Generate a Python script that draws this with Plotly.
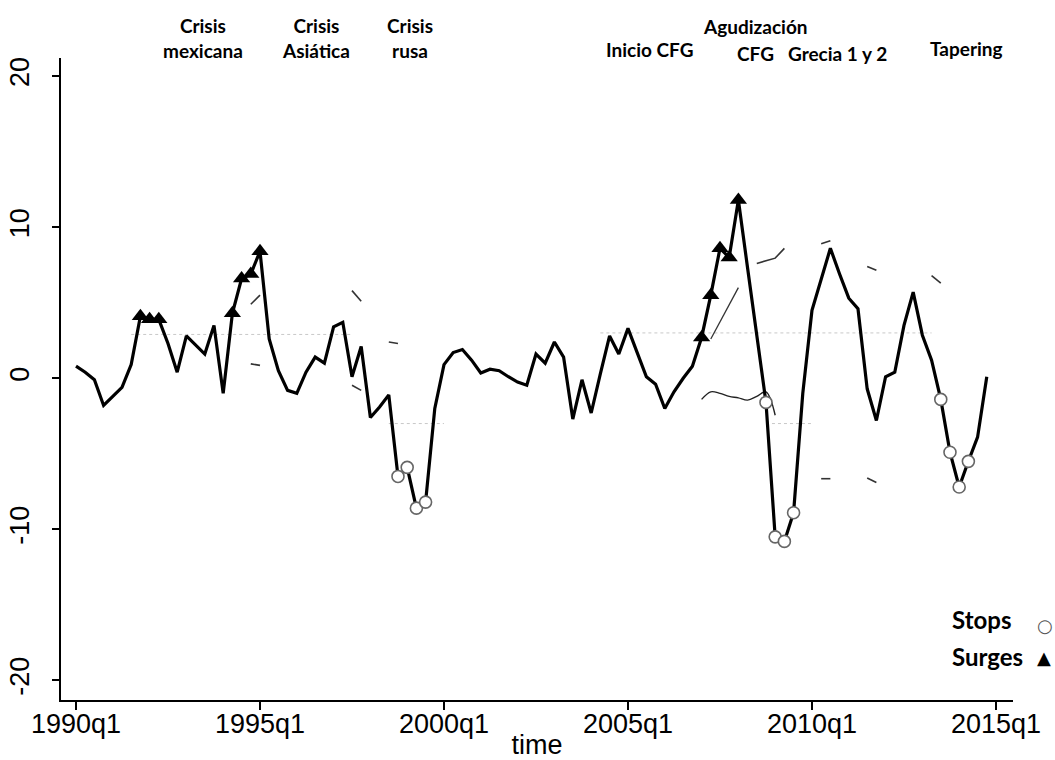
import plotly.graph_objects as go

# ---------------- data ----------------
start_year = 1990
# quarterly capital-flow indicator, 1990q1 .. 2014q4
flow = [
    0.8, 0.4, -0.1, -1.8, -1.2, -0.6, 0.9, 4.1, 3.9, 3.9,
    2.3, 0.4, 2.8, 2.2, 1.6, 3.5, -1.0, 4.3, 6.6, 6.9,
    8.4, 2.6, 0.5, -0.8, -1.0, 0.4, 1.4, 1.0, 3.4, 3.7,
    0.1, 2.1, -2.6, -1.9, -1.1, -6.5, -5.9, -8.6, -8.2, -2.0,
    0.9, 1.7, 1.9, 1.2, 0.35, 0.6, 0.5, 0.1, -0.25, -0.46,
    1.6, 1.0, 2.4, 1.4, -2.7, -0.1, -2.3, 0.3, 2.8, 1.6,
    3.3, 1.7, 0.1, -0.4, -2.0, -0.9, 0.0, 0.8, 2.7, 5.5,
    8.6, 8.0, 11.8, 7.3, 2.9, -1.6, -10.5, -10.8, -8.9, -1.0,
    4.5, 6.5, 8.6, 6.9, 5.3, 4.6, -0.7, -2.8, 0.1, 0.4,
    3.5, 5.7, 2.85, 1.2, -1.4, -4.9, -7.2, -5.5, -3.9, 0.1,
]
quarters = list(range(len(flow)))

surge_idx = [7, 8, 9, 17, 18, 19, 20, 68, 69, 70, 71, 72]
stop_idx = [35, 36, 37, 38, 75, 76, 77, 78, 94, 95, 96, 97]

# faint threshold bands (only fragments survive in the original figure)
upper_q = [19, 20, None, 30, 31, None, 74, 75, 76, 77, None, 81, 82, None, 86, 87, None, 93, 94]
upper_v = [4.9, 5.5, None, 5.8, 5.1, None, 7.6, 7.8, 7.95, 8.6, None, 8.9, 9.1, None, 7.4, 7.15, None, 6.8, 6.3]
mid_q = [19, 20, None, 34, 35]
mid_v = [0.95, 0.85, None, 2.4, 2.3]
lower_q = [30, 31, None, 81, 82, None, 86, 87]
lower_v = [-0.46, -0.8, None, -6.65, -6.65, None, -6.6, -6.9]
thin_q = [68, 69, 70, 71, 72, 73, 74, 75, 76]
thin_v = [-1.4, -0.9, -1.0, -1.2, -1.3, -1.45, -1.2, -0.9, -2.45]
rise_q = [69, 70, 71, 72]
rise_v = [2.6, 3.7, 4.8, 6.0]
faint_q = [6, 30, None, 57, 93, None, 34, 40, None, 75, 80]
faint_v = [2.9, 2.9, None, 3.0, 3.0, None, -3.0, -3.0, None, -3.0, -3.0]

tick_years = [1990, 1995, 2000, 2005, 2010, 2015]
y_ticks = [-20, -10, 0, 10, 20]
y_ticktext = ["-20", "-10", "0", "10", "20"]

events = ["Crisis<br>mexicana", "Crisis<br>Asiática", "Crisis<br>rusa", "Inicio CFG",
          "Agudización", "CFG", "Grecia 1 y 2", "Tapering"]
key_labels = ["Stops", "Surges"]

# ---------------- figure ----------------
fig = go.Figure()

fig.add_trace(go.Scatter(x=faint_q, y=faint_v, mode="lines", connectgaps=False,
                         line=dict(color="#c8c8c8", width=1, dash="dot"), hoverinfo="skip"))
for qq, vv in [(upper_q, upper_v), (mid_q, mid_v), (lower_q, lower_v)]:
    fig.add_trace(go.Scatter(x=qq, y=vv, mode="lines", connectgaps=False,
                             line=dict(color="#333333", width=1.6), hoverinfo="skip"))
fig.add_trace(go.Scatter(x=thin_q, y=thin_v, mode="lines",
                         line=dict(color="#222222", width=1.4, shape="spline"), hoverinfo="skip"))
fig.add_trace(go.Scatter(x=rise_q, y=rise_v, mode="lines",
                         line=dict(color="#333333", width=1.3), hoverinfo="skip"))

fig.add_trace(go.Scatter(x=quarters, y=flow, mode="lines", name="flujo",
                         line=dict(color="black", width=3.2)))

fig.add_trace(go.Scatter(x=stop_idx, y=[flow[i] for i in stop_idx], mode="markers", name="Stops",
                         marker=dict(symbol="circle", size=12, color="white",
                                     line=dict(color="#666666", width=1.6))))
fig.add_trace(go.Scatter(x=surge_idx, y=[flow[i] for i in surge_idx], mode="markers", name="Surges",
                         marker=dict(symbol="triangle-up", size=15, color="black",
                                     line=dict(color="black", width=0))))


def qlabel(year):
    return f"{year}q1"


tickvals = [(y - start_year) * 4 for y in tick_years]
ticktext = [qlabel(y) for y in tick_years]

axis_font = dict(family="Liberation Sans, Arial, sans-serif", size=27, color="black")

# plot area in pixels: left 61, right 1013, top 58, bottom 700
PL, PR, PT, PB = 61, 1013, 58, 700


def px_x(px):
    return (px - PL) / (PR - PL)


def px_y(py):
    return (PB - py) / (PB - PT)


fig.update_layout(
    width=1055, height=760,
    margin=dict(l=PL, r=1055 - PR, t=PT, b=760 - PB),
    paper_bgcolor="white", plot_bgcolor="white",
    showlegend=False,
    xaxis=dict(range=[-1.63, 101.85], tickvals=tickvals, ticktext=ticktext,
               automargin=False, ticklabelstandoff=-9,
               showline=True, linecolor="black", linewidth=1.6,
               ticks="outside", ticklen=8, tickwidth=1.6, tickcolor="black",
               showgrid=False, zeroline=False, tickfont=axis_font,
               title=dict(text="time", font=axis_font, standoff=10)),
    yaxis=dict(range=[-21.3, 21.2], tickvals=y_ticks, ticktext=y_ticktext, tickangle=-90,
               automargin=False, ticklabelstandoff=12,
               showline=True, linecolor="black", linewidth=1.6,
               ticks="outside", ticklen=7, tickwidth=1.6, tickcolor="black",
               showgrid=False, zeroline=False, tickfont=axis_font),
)

# event labels along the top
event_x = [13.8, 26.1, 36.3, 62.4, 73.9, 73.9, 82.8, 96.8]
event_ypx = [38, 38, 38, 49.5, 26, 53, 53, 48]
ev_font = dict(family="Lato, Noto Sans, sans-serif", size=19, color="black", weight="bold")
for txt, ex, ey in zip(events, event_x, event_ypx):
    fig.add_annotation(x=ex, xref="x", y=px_y(ey), yref="paper", text=txt,
                       showarrow=False, xanchor="center", yanchor="middle", font=ev_font)

# custom key (text on the left, symbol on the right)
key_font = dict(family="Lato, Noto Sans, sans-serif", size=24, color="black", weight="bold")
fig.add_annotation(x=px_x(950), xref="paper", y=px_y(619), yref="paper",
                   text=key_labels[0], showarrow=False, xanchor="left", yanchor="middle", font=key_font)
fig.add_annotation(x=px_x(950), xref="paper", y=px_y(656), yref="paper",
                   text=key_labels[1], showarrow=False, xanchor="left", yanchor="middle", font=key_font)
fig.add_annotation(x=px_x(1045), xref="paper", y=px_y(625), yref="paper",
                   text="○", showarrow=False, xanchor="center", yanchor="middle",
                   font=dict(family="DejaVu Sans", size=18, color="#555555", weight="bold"))
fig.add_annotation(x=px_x(1044), xref="paper", y=px_y(657), yref="paper",
                   text="▲", showarrow=False, xanchor="center", yanchor="middle",
                   font=dict(family="DejaVu Sans", size=18, color="black"))

fig.write_html("out.html", config={"displayModeBar": False},
               post_script="document.body.style.margin='0';document.body.style.padding='0';")
